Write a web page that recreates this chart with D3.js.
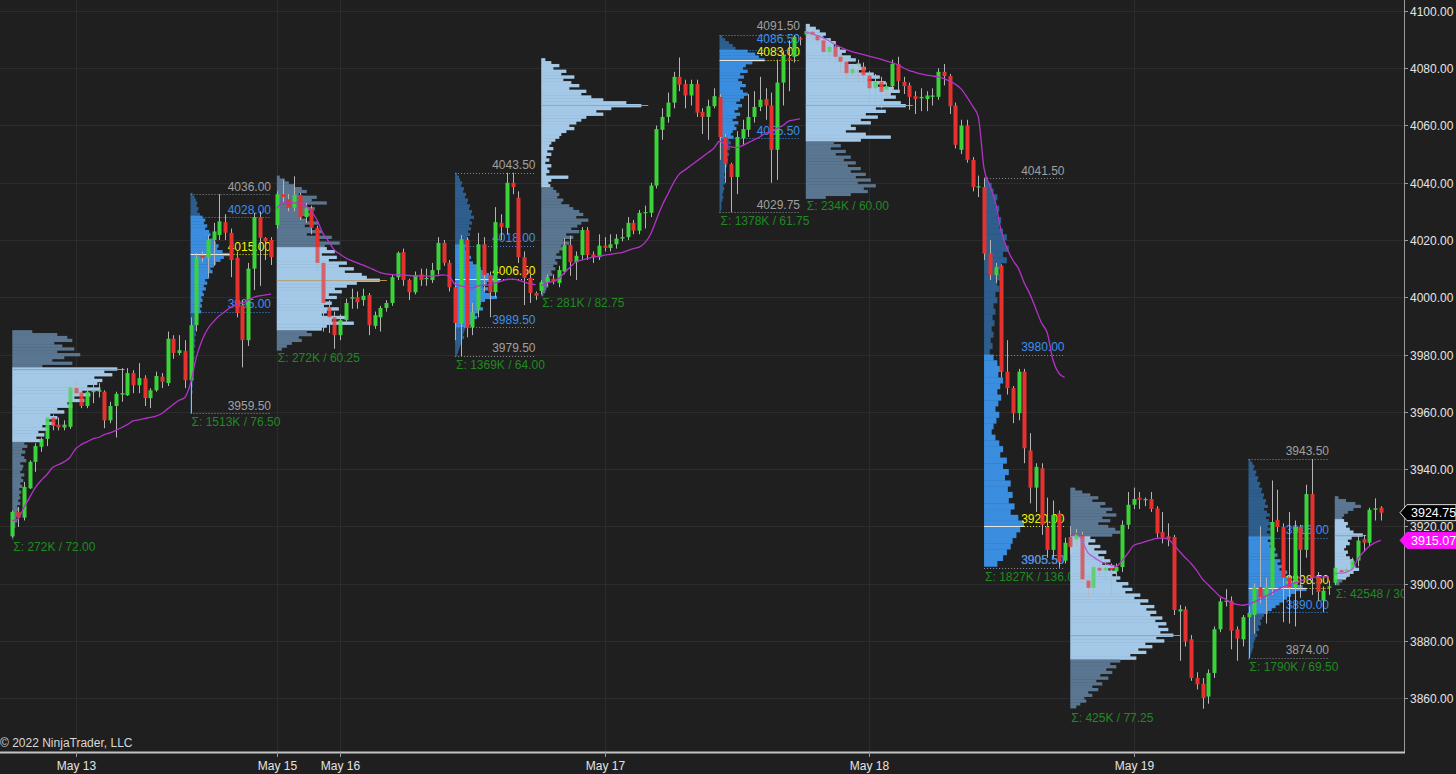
<!DOCTYPE html>
<html><head><meta charset="utf-8">
<script src="https://cdn.jsdelivr.net/npm/d3@7"></script>
<style>html,body{margin:0;padding:0;background:#1f1f1f;overflow:hidden}</style>
</head><body><svg id="c" width="1456" height="774"></svg>
<script>
// ---------------- DATA ----------------
const priceTicks = [3860,3880,3900,3920,3940,3960,3980,4000,4020,4040,4060,4080,4100];
const dateTickIdx = [11,46,57,103,149,195];
const dateTickLabel = ["May 13","May 15","May 16","May 17","May 18","May 19"];

const open = [
3916.5,3925,3923,3933.25,3942.5,3947.75,3950.5,3958,3955.5,3954.5,
3954.75,3968.25,3966.75,3962,3967,3967,3967,3957,3962,3966,
3965.75,3973.5,3969.25,3971.75,3964.75,3967.5,3972.25,3970,3985.5,3980.5,
3981.25,3971,3990.25,4014.5,4013.75,4020,4021.75,4026.25,4022.5,4013.75,
3997.25,3985,4010,4028,4020.75,4020,
4025.25,4036,4034.25,4031.25,4035.75,4028,4031,4024.25,4012,3996.5,
3993,3986.75,3992,3999.5,4000,3999,4000.75,3990,3993,3996.25,
3998,4007,4015.75,4006,4001.75,4008,4006.5,4006,4009.5,4019,
4012,
4003.5,3991,4020,3989.5,3995.5,4018.5,4007.75,4001.75,4026,4024.25,
4040,4034.75,4014,4006.75,4001.5,
4002.25,4005.25,4006.5,4005,4009,4018.25,4012.25,4014.75,4023.5,4015,
4014,4018,4017.25,4018.5,4020.5,4021,4026,4023.25,4029.5,4029.5,
4039,4058.5,4063,4068,4077,4074.5,4070.5,4074.5,4064.75,4063,
4066.75,
4070,4056,4046.5,4042,4055.5,4058.5,4063,4066.5,4069.25,4067,
4051.5,4075,4083.5,4084,4090.5,
4091.75,4092.75,4091.5,4089.75,4085.75,4087.5,4084,4082.25,4078.25,4081.5,
4080.5,4077.5,4073,4075.25,4072.5,4073.75,4081.5,4075.25,4074,4070.25,
4069.5,4069.25,4070,4070,4078.75,4077.25,4067,4051.5,4060,4048,
4038.5,
4038.5,4015.25,4007.75,4011,3974,3968.25,3959.5,3974,3946.5,3933.5,
3940.25,3919.75,3911.75,3924.5,3908,
3916.25,3915.5,3917,3901,3898.5,3905.5,3904.5,3905.5,3904.25,3905.75,
3920.5,3927.5,3930,3929.25,3929.5,3926.25,3918,3916.5,3916.25,3890.25,
3891,3880.5,3867,3865,3860.5,3868.75,3884,3893.75,3894,3884,
3880.5,
3888.25,3889,3898.75,3895.25,3898.5,3922.25,3919.75,3902,3898.75,3919.75,
3911.75,3931.25,3902.25,3894,3898.5,
3900.25,3904.75,3904.25,3905,3908,3915.5,3914.25,3925.75,3926.5];

const high = [
3925.5,3926.75,3935.5,3943,3949,3951,3959,3959,3958,3957,
3969.25,3970.5,3968.5,3968.25,3970.5,3970,3967.5,3963.5,3967,3975.25,
3975.25,3974.5,3977,3972.75,3968.25,3974,3973.5,3988,3986.75,3986.75,
3985,3993,4015.5,4016,4021.75,4026,4036,4029,4024,4016,
3999,4012,4029.5,4030,4021,4021,
4037,4041,4036,4042.25,4036.5,4033,4032,4025,4013,3999,
3995,3994,3999.5,4003,4002,4003,4001.5,3995,3997,3999,
4008,4016,4017,4006.5,4009,4010,4010,4012,4021,4020,
4013,
4005,4021.75,4021,3998,4022.5,4021,4009,4031.5,4029,4043.5,
4043.5,4037,4016,4008,4002,
4006,4008,4008,4011,4020.75,4021.5,4016,4024.5,4024.5,4016,
4022,4021,4022,4022,4024,4028,4027,4030.5,4032,4040,
4060,4066,4071.5,4078.75,4083.75,4076,4076,4076,4066,4069,
4073,
4071,4057,4047,4058,4062,4071,4072,4077,4073,4071.5,
4083,4086,4089.75,4091.5,4091,
4095,4093.5,4092,4091,4088.5,4088,4085,4083,4081,4083,
4082,4079,4078,4077,4075,4083,4084,4077,4075,4072,
4073,4072,4073,4080,4081.5,4078,4068,4062,4062,4049,
4042.5,
4041.5,4020,4012,4011.5,3985,3969,3975,3975,3952.5,3942,
3942,3930,3929,3925.5,3916,
3920,3919,3918,3903,3907,3908,3908,3907,3907,3922,
3932,3933.5,3932,3930,3932,3927,3925,3921,3917,3892.5,
3892,3882,3869,3867,3870,3885,3895,3898,3895.5,3885,
3889,
3892,3900,3920,3902,3936,3932.75,3921,3925,3922,3920.5,
3934.5,3943.5,3904,3899,3901,
3906,3906,3906.5,3909,3917,3917,3926.5,3929.75,3927];

const low = [
3916,3919.75,3922,3933,3939,3946,3948,3953.5,3953.5,3953.5,
3954,3966,3961.25,3961.25,3963,3965,3954.25,3956,3951,3963.5,
3965.5,3966.5,3966.5,3962,3961.25,3967,3968.25,3969,3978.5,3979.75,
3968.25,3959.5,3988,4012.25,4007,4011,4020,4020,4007,3993,
3975.5,3983,4002.5,4004,4013,4011.25,
4024,4033,4030,4030,4027,4026,4022,4009.5,3988,3987.5,
3982,3985,3991,3996,3996,3997,3986.75,3989,3988,3995,
3997,4006,4004,3999,4001,4004,4004,4005,4008,4011,
4002,
3985,3979.5,3986,3986.75,3993,4002,3993,4000,4020,4022,
4036,4012,3997.25,3998,3999,
4001,4004,4004.5,4003.5,4008,4007.5,4006,4013,4013,4012,
4013,4016,4016,4017,4019.5,4020,4022,4022,4024,4028,
4038,4055,4061,4066,4072,4066,4067,4063,4057,4055,
4066,
4048,4040,4029.75,4036,4053,4056,4061,4065,4062,4040,
4041,4067,4072,4082,4088,
4090,4090,4088,4084,4083,4082,4078,4076,4077,4075,
4075,4068,4068,4066,4070,4072,4072,4071,4065.5,4064,
4065,4065,4067,4069,4074,4064,4052,4050,4047,4037,
4035,
4013,4006,4005,3972,3966,3956,3957,3942,3928,3925,
3917,3909,3909,3905.5,3907,
3910,3913,3900,3895.25,3896,3902,3901,3896,3902,3904,
3919,3926,3926,3927,3925,3916,3914,3913,3889,3873,
3878,3866,3863,3856.25,3858,3867,3883,3892,3877,3873,
3878,
3874,3882.5,3893,3886,3896,3918,3886.5,3886,3885,3895,
3909,3896,3894,3890,3896,
3899.5,3902,3902,3904,3906,3911,3913,3922,3922];

const close = [
3925,3923,3933.75,3942.5,3948,3950.5,3958,3955,3954.5,3955.5,
3968.5,3966.5,3962,3967,3967.25,3967.5,3957,3962,3966.25,3966.5,
3973.5,3969.25,3971.75,3964.75,3967.5,3972.5,3970.5,3985.5,3980.5,3981.5,
3971,3990.25,4014,4013.75,4020,4023,4026.5,4022.5,4013,3994.5,
3985,4010,4028,4020.75,4019.5,4014,
4036,4035,4031.25,4035.75,4028,4031,4024.25,4012,3998,3993,
3986.75,3992,3998,4000,3998.25,4000.5,3990.25,3993.75,3996.25,3998,
4007,4015.5,4006,4001.75,4007.75,4006,4006.75,4009.5,4019,4012,
4003.5,
3991,4020.25,3989.25,3994.75,4018.5,4007.75,4001.75,4026.25,4024.5,4040,
4038.5,4014,4006.75,4001.5,4000.5,
4005.25,4007,4005.25,4009.5,4018.25,4012.25,4014.5,4023.5,4014.75,4014,
4018,4017.25,4018.5,4020.5,4021,4026,4023.25,4029.5,4029.75,4039,
4058.75,4063,4068,4077,4074.25,4070.5,4074.5,4064.5,4063,4066.75,
4070.25,
4056,4046.5,4042,4056,4058.75,4063,4066.5,4069,4067,4051.5,
4075,4084.5,4083,4091,4090,
4093,4091.75,4089.75,4085.75,4087.5,4084,4082.25,4078.25,4079.75,4081.75,
4077.5,4073,4075.25,4071.75,4073.75,4081.5,4075.5,4073.75,4070,4069.25,
4070,4070.5,4070.5,4078.75,4077.25,4066.75,4053.25,4060,4048,4038.5,
4038.75,
4015.25,4007.75,4010.5,3974,3968.25,3959.5,3974,3947.25,3933.5,3940.75,
3920.5,3911.75,3924,3907.5,3914.25,
3912.75,3917.25,3901.5,3898.5,3905.75,3904.5,3905.5,3904.75,3905.75,3920.5,
3927.5,3929.5,3929.25,3929.5,3926,3917.5,3916.25,3915.5,3890.75,3891,
3879.75,3867,3864.75,3860,3868.75,3884,3893.75,3894,3883.5,3880.75,
3888.25,
3889.75,3898.75,3895.25,3898.75,3921.5,3919.75,3902,3898.75,3919.75,3911.75,
3931.25,3902.25,3897,3897.5,3899,
3905.5,3904,3905,3908,3915,3914.25,3925.75,3926.25,3924.75];

const vwapSessionStart = [0,46,92,138,184,230];
const vwap = [
3922,3922.5,3926.5,3930,3933.5,3936,3938,3940.5,3941.5,3942.5,
3944,3947,3948.5,3949.5,3950.5,3951,3952,3952.6,3953.5,3954.5,
3955.5,3956.8,3957.2,3957.6,3958,3958.5,3959.4,3961,3962.5,3964,
3965,3970,3979,3985,3989,3991.5,3993.5,3995,3996.5,3997.5,
3998,3999,4000,4000.5,4000.8,4001.2,
4031,4033,4033,4033,4032.8,4032,4030,4027,4022.4,4019.5,
4016.5,4015,4013.7,4012.8,4012,4011.2,4010.4,4009.5,4008.6,4008.2,
4007.9,4007.8,4007.8,4007.6,4007.5,4007.5,4007.4,4007.4,4007.6,4007.8,
4007.3,4004.5,4004,4003.5,4003.2,4004,4004.2,4004.3,4005,4005.6,
4006.2,4006.3,4006,4005.3,4004.8,4004.3,
4004,4005,4005.5,4006.5,4008.5,4010.5,4012.3,4013,4013.5,4014,
4014.3,4014.7,4015,4015.3,4015.6,4016.3,4017,4017.5,4019,4022,
4027,4032,4036,4040,4043,4044.5,4046,4047.5,4049,4050.5,
4052,4054.5,4053.5,4052.5,4052.3,4053,4054,4055,4056,4057.3,
4057.8,4059,4060,4061.5,4062,4062.3,
4092.5,4092.2,4091.4,4090.6,4089.6,4088.4,4087.4,4086.5,4085.8,4085.3,
4084.8,4084.2,4083.7,4083.2,4082.5,4081.9,4081.2,4080.1,4079.2,4078.6,
4078,4077.6,4077.3,4077,4076.4,4075.5,4074.4,4072.8,4070,4066.8,
4063,4045,4039,4033,4023,4017,4013,4010,4005,4001,
3996,3991,3987.5,3978,3973.5,3972,
3916.5,3917.5,3915.2,3911,3909.3,3908,3907,3906.4,3906,3908,
3910.5,3913.3,3914,3914.6,3915.2,3915.8,3915.9,3915.5,3913.5,3911.2,
3909,3907,3904.5,3901.5,3899.5,3897.5,3895.5,3894.5,3893.2,3892.7,
3892.4,3892.8,3893.6,3894.5,3895.6,3896.6,3897.8,3898.8,3899.5,3900.2,
3900.8,3901.4,3902,3902.3,3902.3,3902.3,
3903.5,3903.6,3904,3905,3908.5,3911,3913,3914.3,3915.07];

// Volume profiles (one per session)
const profStart = [0,31,46,77,92,123,138,169,184,215,230];
const profEnd   = [30,45,76,91,122,137,168,183,214,229,238];
const profKind  = ["ETH","RTH","ETH","RTH","ETH","RTH","ETH","RTH","ETH","RTH","ETH"];
const profTop   = [3988,4036,4042,4043,4083,4091,4095,4041,3933,3943,3930];
const profStep  = [1,1,1,1,1,1,1,2,1,1,1];
const profVAH   = [3975,4028,4017,4018,4083.5,4086.5,4095,3980,3916.5,3916,3922.5];
const profVAL   = [3950,3995,3989,3989.5,4038.5,4055.5,4054.5,3905.5,3873.5,3890,3901.5];
const profPOC   = [3975,4015,4006,4006.5,4067,4083,4067,3920,3882,3898.5,3917];
const profHigh  = [3988,4036,4042.25,4043.5,4083.75,4091.5,4095,4041.5,3933.5,3943.5,3929.75];
const profLow   = [3916,3959.5,3982,3979.5,4001,4029.75,4035,3905.5,3856.25,3874,3899.5];
const profTotal = ["272K","1513K","272K","1369K","281K","1378K","234K","1827K","425K","1790K","42548"];
const profVol = [
 [20,45,55,60,42,50,62,45,68,52,40,60,30,105,92,100,82,90,85,75,88,70,78,62,72,55,60,45,52,38,45,34,42,30,36,26,32,24,30,12,15,10,13,9,12,14,8,11,10,8,12,9,11,8,10,7,9,7,8,6,8,5,7,5,6,4,5,3,3,2,2,2,1],
 [3,6,8,10,9,12,10,14,18,22,20,25,22,28,30,26,35,38,42,40,48,60,50,45,38,35,30,33,26,28,22,25,20,23,18,20,16,18,15,17,14,16,10,12,9,10,8,9,7,8,6,7,6,7,5,6,5,6,5,5,4,5,4,4,3,4,3,3,2,3,2,2,2,2,1,1,1],
 [3,8,12,18,25,30,22,40,35,50,30,38,28,35,25,30,42,28,35,45,30,55,40,63,48,50,58,45,60,52,70,62,77,68,85,90,103,80,70,58,65,52,60,48,55,47,62,50,45,70,55,77,50,45,30,35,22,25,15,10,5],
 [2,4,5,7,6,9,8,11,10,13,12,15,14,17,16,19,15,17,14,16,13,15,12,14,11,12,10,14,12,16,14,18,22,26,30,34,40,45,32,28,33,30,36,42,30,26,22,28,24,20,22,18,16,14,10,9,8,9,7,6,5,4,3,2],
 [4,10,18,12,25,20,33,22,30,38,28,45,40,50,62,85,100,70,55,62,45,40,35,28,33,25,20,18,14,10,8,12,6,10,5,8,4,10,6,8,5,27,10,7,9,12,15,18,16,22,20,28,32,38,42,35,47,40,36,30,38,25,32,22,28,20,24,18,15,20,14,16,12,14,10,11,8,9,6,7,5,4,2],
 [3,6,10,14,17,30,38,42,48,35,28,25,30,22,26,20,24,28,22,25,30,26,22,18,24,20,16,22,18,14,20,16,18,14,12,15,10,12,9,11,8,10,7,9,6,8,6,7,5,6,5,6,4,5,4,3,4,3,2,2,2,1],
 [4,10,14,20,17,25,30,28,34,40,36,45,50,42,55,60,52,68,74,62,80,72,88,94,85,90,78,95,100,70,80,60,72,55,65,45,50,40,60,85,55,28,35,25,40,30,45,38,50,42,55,45,60,50,65,52,70,58,62,45,20],
 [4,8,10,14,12,16,14,18,16,20,24,22,26,20,24,18,15,17,14,16,12,14,10,12,9,11,8,10,7,9,6,10,14,18,15,20,17,14,18,15,12,16,13,10,8,12,16,20,17,24,20,26,22,28,25,30,26,32,28,36,42,38,34,30,28,24,20,14],
 [5,12,20,28,22,35,30,42,36,46,32,40,28,38,45,50,42,20,25,18,30,24,36,28,34,40,32,44,38,46,42,50,46,58,52,62,55,70,64,78,70,84,76,86,80,92,85,96,88,98,90,103,86,94,75,82,68,76,60,66,50,40,46,36,42,30,38,26,32,22,28,18,22,14,16,10,6],
 [2,4,6,5,8,7,10,9,12,11,14,13,16,15,18,17,20,16,19,22,18,21,24,20,23,19,22,24,20,26,22,28,24,30,27,33,30,36,32,40,38,45,42,50,56,60,48,44,40,36,32,28,24,20,16,14,12,13,10,11,8,9,7,6,5,5,4,3,2,1],
 [4,12,22,28,20,14,10,8,10,14,12,16,20,30,18,14,16,12,10,14,12,16,20,18,22,26,20,16,12,8,5]
];

// ---------------- LAYOUT / STYLE ----------------
const W = 1456, H = 774, plotR = 1404, plotB = 752;
const profMaxW = [105,40,103,45,100,45,100,40,103,58,28];
const FONT = "'Liberation Sans', Arial, sans-serif";
const C = {
  bg:"#1f1f1f", grid:"#2c2c2c", up:"#3ad43a", down:"#e6322f", doji:"#c8c8c8", wick:"#b4b4b4",
  vwap:"#b532c8", ethVA:"#a4c9e8", ethOut:"#5a7690", rthVA:"#3a8ddf", rthOut:"#2e5e8d",
  ethPoc:"#b8924e", rthPoc:"#e6e6dc", gray:"#a0a0a0", blue:"#3d8fec", yellow:"#f2f200", green:"#1f8a22",
  axisText:"#e4e4e4"
};

const svg = d3.select("#c");
svg.append("rect").attr("width",W).attr("height",H).attr("fill",C.bg);
const defs = svg.append("defs");
defs.append("clipPath").attr("id","plotClip").append("rect").attr("x",0).attr("y",0).attr("width",plotR).attr("height",plotB);

const y = d3.scaleLinear().domain([3860,4100]).range([698,11]);
const x = d3.scaleLinear().domain([0,238]).range([12.3,12.3+5.75*238]);

const plot = svg.append("g").attr("clip-path","url(#plotClip)");

// grid
plot.selectAll("line.hg").data(priceTicks).join("line").attr("class","hg")
  .attr("x1",0).attr("x2",plotR).attr("y1",d=>Math.round(y(d))+0.5).attr("y2",d=>Math.round(y(d))+0.5)
  .attr("stroke",C.grid).attr("stroke-width",1);
plot.selectAll("line.vg").data(dateTickIdx).join("line").attr("class","vg")
  .attr("x1",d=>Math.round(x(d))+0.5).attr("x2",d=>Math.round(x(d))+0.5).attr("y1",0).attr("y2",plotB)
  .attr("stroke",C.grid).attr("stroke-width",1);

const fmt = d3.format(".2f");
const wScales = [];

function txt(g, xx, yy, s, color, anchor){
  return g.append("text").attr("x",xx).attr("y",yy).attr("fill",color).attr("font-family",FONT)
    .attr("font-size",12).attr("text-anchor",anchor||"start").text(s);
}
function hline(g, x1, x2, p, color, dash){
  const yy = Math.round(y(p))+0.5;
  g.append("line").attr("x1",x1).attr("x2",x2).attr("y1",yy).attr("y2",yy)
   .attr("stroke",color).attr("stroke-width",1).attr("stroke-dasharray",dash||null);
}

profVol.forEach((vols,j)=>{
  const g = plot.append("g");
  const eth = profKind[j]==="ETH";
  const step = profStep[j];
  const rows = vols.map((v,k)=>({p: profTop[j]-k*step, v}));
  const ws = d3.scaleLinear().domain([0,d3.max(vols)]).range([0,profMaxW[j]]);
  wScales.push(ws);
  const x0 = x(profStart[j]), x1 = x(profEnd[j]);
  const inVA = p => p <= profVAH[j]+1e-9 && p >= profVAL[j]-1e-9;
  g.selectAll("rect").data(rows).join("rect")
    .attr("x",x0).attr("width",d=>ws(d.v))
    .attr("y",d=>y(d.p+step/2)).attr("height",d=>y(d.p-step/2)-y(d.p+step/2)+0.4)
    .attr("fill",d=> inVA(d.p) ? (eth?C.ethVA:C.rthVA) : (eth?C.ethOut:C.rthOut));
  const pocV = d3.max(vols);
  if(eth){
    hline(g, x0, x0+profMaxW[j]*1.05+2, profPOC[j], C.ethPoc);
  } else {
    hline(g, x0, x1, profHigh[j], "#8c8c8c", "1,2");
    hline(g, x0, x1, profVAH[j], C.blue, "1,2");
    hline(g, x0, x1, profVAL[j], C.blue, "1,2");
    hline(g, x0, x1, profLow[j], "#8c8c8c", "1,2");
    hline(g, x0+ws(pocV), x1, profPOC[j], C.yellow, "1,2");
    hline(g, x0, x0+ws(pocV), profPOC[j], C.rthPoc);
    // labels, nudged upward when they would collide
    const labs = [
      {p:profHigh[j], c:C.gray}, {p:profVAH[j], c:C.blue}, {p:profPOC[j], c:C.yellow},
      {p:profLow[j], c:C.gray}, {p:profVAL[j], c:C.blue}
    ].sort((a,b)=>b.p-a.p);
    labs.forEach(l=> l.b = y(l.p)-3.5);
    for(let k=labs.length-2;k>=0;k--){
      if(labs[k].p===labs[k+1].p) { labs[k].b = labs[k+1].b; continue; }
      if(labs[k+1].b - labs[k].b < 13) labs[k].b = labs[k+1].b - 13;
    }
    labs.filter(l=>l.c===C.gray).forEach(l=>txt(g, x1, l.b, fmt(l.p), l.c, "end"));
    labs.filter(l=>l.c!==C.gray).forEach(l=>txt(g, x1, l.b, fmt(l.p), l.c, "end"));
  }
  const sig = txt(g, x0+1, y(profLow[j])+13, "\u03A3: "+profTotal[j]+" / "+fmt(profHigh[j]-profLow[j]), C.green, "start");
  // text that runs into the price axis is cut at the plot edge
  let s = sig.text();
  while(x0+1+sig.node().getComputedTextLength() > plotR+4 && s.length>1){ s = s.slice(0,-1); sig.text(s); }
});

// candles
const idx = d3.range(open.length);
const cg = plot.append("g");
cg.selectAll("line.w").data(idx).join("line").attr("class","w")
  .attr("x1",i=>Math.round(x(i))+0.5).attr("x2",i=>Math.round(x(i))+0.5)
  .attr("y1",i=>y(high[i])).attr("y2",i=>y(low[i]))
  .attr("stroke",C.wick).attr("stroke-width",1);
cg.selectAll("rect.b").data(idx).join("rect").attr("class","b")
  .attr("x",i=>Math.round(x(i))-1.5).attr("width",4)
  .attr("y",i=>y(Math.max(open[i],close[i])))
  .attr("height",i=>Math.max(1.2, Math.abs(y(open[i])-y(close[i]))))
  .attr("fill",i=> close[i]>open[i]?C.up:(close[i]<open[i]?C.down:C.doji));

// VWAP
const line = d3.line().x(i=>x(i)).y(i=>y(vwap[i])).curve(d3.curveMonotoneX);
vwapSessionStart.forEach((s,k)=>{
  const e = k<vwapSessionStart.length-1 ? vwapSessionStart[k+1]-1 : vwap.length-1;
  plot.append("path").attr("d",line(d3.range(s,e+1))).attr("fill","none")
    .attr("stroke",C.vwap).attr("stroke-width",1.3);
});

// light wash of ETH value areas over candles
profVol.forEach((vols,j)=>{
  if(profKind[j]!=="ETH") return;
  const step = profStep[j], ws = wScales[j], x0 = x(profStart[j]);
  const rows = vols.map((v,k)=>({p: profTop[j]-k*step, v})).filter(d=>d.p<=profVAH[j]&&d.p>=profVAL[j]);
  plot.append("g").selectAll("rect").data(rows).join("rect")
    .attr("x",x0).attr("width",d=>ws(d.v))
    .attr("y",d=>y(d.p+step/2)).attr("height",d=>y(d.p-step/2)-y(d.p+step/2)+0.4)
    .attr("fill",C.ethVA).attr("opacity",0.3);
});

// axes
svg.append("line").attr("x1",plotR+0.5).attr("x2",plotR+0.5).attr("y1",0).attr("y2",plotB+1)
  .attr("stroke","#9a9a9a").attr("stroke-width",1);
svg.append("line").attr("x1",0).attr("x2",plotR+1).attr("y1",plotB+0.5).attr("y2",plotB+0.5)
  .attr("stroke","#c4c4c4").attr("stroke-width",2);
priceTicks.forEach(p=>{
  const yy = Math.round(y(p))+0.5;
  svg.append("line").attr("x1",plotR).attr("x2",plotR+4).attr("y1",yy).attr("y2",yy).attr("stroke","#9a9a9a");
  txt(svg, plotR+6, yy+4.5, fmt(p), C.axisText, "start");
});
dateTickIdx.forEach((d,k)=>{
  const xx = Math.round(x(d))+0.5;
  svg.append("line").attr("x1",xx).attr("x2",xx).attr("y1",plotB).attr("y2",plotB+5).attr("stroke","#9a9a9a");
  txt(svg, xx, 770, dateTickLabel[k], C.axisText, "middle");
});
txt(svg, 0, 747, "\u00A9 2022 NinjaTrader, LLC", "#d8d8d8", "start");

// price markers
function marker(p, fill, stroke){
  const yc = y(p);
  svg.append("path").attr("d",`M${plotR-4},${yc} L${plotR+3},${yc-8} L${W},${yc-8} L${W},${yc+8} L${plotR+3},${yc+8} Z`)
    .attr("fill",fill).attr("stroke",stroke).attr("stroke-width",1);
  txt(svg, plotR+7, yc+4.5, fmt(p), "#ffffff", "start").attr("font-size",12.5);
}
marker(close[close.length-1], "#000000", "#e0e0e0");
marker(vwap[vwap.length-1], "#ff10ff", "#ff10ff");
</script></body></html>
